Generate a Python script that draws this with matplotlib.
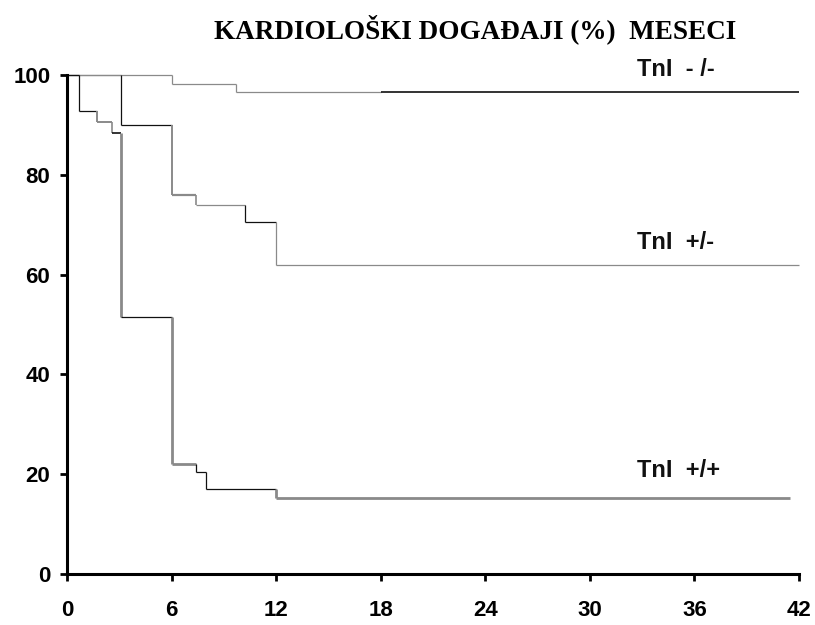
import matplotlib
matplotlib.use('Agg')
import matplotlib.pyplot as plt

# step curves: time (months) where each level starts, and the level (%)
neg_times = [0, 6, 9.7, 18]
neg_values = [100, 98.2, 96.5, 96.5]
neg_end = 42

mid_times = [0, 3.1, 6, 7.4, 10.2, 12]
mid_values = [100, 90, 76, 74, 70.5, 62]
mid_end = 42

pos_times = [0, 0.7, 1.7, 2.6, 3.1, 6, 7.4, 8.0, 12]
pos_values = [100, 92.8, 90.5, 88.3, 51.5, 22, 20.4, 17, 15.2]
pos_end = 41.5

x_ticks = [0, 6, 12, 18, 24, 30, 36, 42]
y_ticks = [0, 20, 40, 60, 80, 100]
labels = ['TnI  - /-', 'TnI  +/-', 'TnI  +/+']
label_y = [101.2, 66.4, 20.8]

GRAY = '#8a8a8a'
BLACK = '#111111'
THIN = 0.9
THICK = 2.0

# styles per segment: (drop color, drop width, flat color, flat width)
neg_style = [(GRAY, THIN, GRAY, THIN), (GRAY, THIN, GRAY, THIN),
             (GRAY, THIN, GRAY, THIN), (BLACK, THIN, BLACK, 1.2)]
mid_style = [(GRAY, THIN, GRAY, THIN), (BLACK, THIN, BLACK, THIN),
             (GRAY, 1.4, GRAY, 1.6), (GRAY, 1.2, GRAY, THIN),
             (BLACK, THIN, BLACK, THIN), (GRAY, THIN, GRAY, THIN)]
pos_style = [(BLACK, THIN, BLACK, THIN), (BLACK, THIN, BLACK, THIN),
             (GRAY, 1.4, GRAY, 1.4), (GRAY, 1.2, BLACK, 1.2),
             (GRAY, THICK, BLACK, THIN), (GRAY, THICK, GRAY, THICK),
             (BLACK, THIN, BLACK, THIN), (BLACK, THIN, BLACK, THIN),
             (GRAY, THICK, GRAY, THICK)]


def draw_steps(ax, times, values, end, styles):
    for i in range(len(times)):
        dc, dw, fc, fw = styles[i]
        t_next = times[i + 1] if i + 1 < len(times) else end
        if i > 0:
            ax.vlines(times[i], values[i], values[i - 1], colors=dc,
                      linewidth=dw, clip_on=False)
        ax.hlines(values[i], times[i], t_next, colors=fc, linewidth=fw,
                  clip_on=False)


fig = plt.figure(figsize=(8.15, 6.25), dpi=100)
ax = fig.add_axes([67 / 815, 51 / 625, 732 / 815, 499 / 625])

draw_steps(ax, neg_times, neg_values, neg_end, neg_style)
draw_steps(ax, mid_times, mid_values, mid_end, mid_style)
draw_steps(ax, pos_times, pos_values, pos_end, pos_style)

for txt, yv in zip(labels, label_y):
    ax.text(32.7, yv, txt, fontsize=17, fontweight='bold',
            family='Liberation Sans', va='center', ha='left', color='#111111')

ax.set_xlim(0, 42)
ax.set_ylim(0, 100)
ax.set_xticks(x_ticks)
ax.set_yticks(y_ticks)
for s in ['top', 'right']:
    ax.spines[s].set_visible(False)
for s in ['left', 'bottom']:
    ax.spines[s].set_linewidth(2.2)
    ax.spines[s].set_color('black')
ax.tick_params(axis='both', direction='out', length=5, width=2,
               labelsize=16)
ax.tick_params(axis='x', pad=14)
ax.tick_params(axis='y', pad=7)
for lab in ax.get_xticklabels() + ax.get_yticklabels():
    lab.set_fontweight('bold')
    lab.set_family('Liberation Sans')

fig.text(0.583, 0.953, 'KARDIOLOŠKI DOGAĐAJI (%)  MESECI', ha='center',
         va='center', fontsize=19.5, fontweight='bold', family='Liberation Serif')

fig.savefig('out.png', dpi=100)
